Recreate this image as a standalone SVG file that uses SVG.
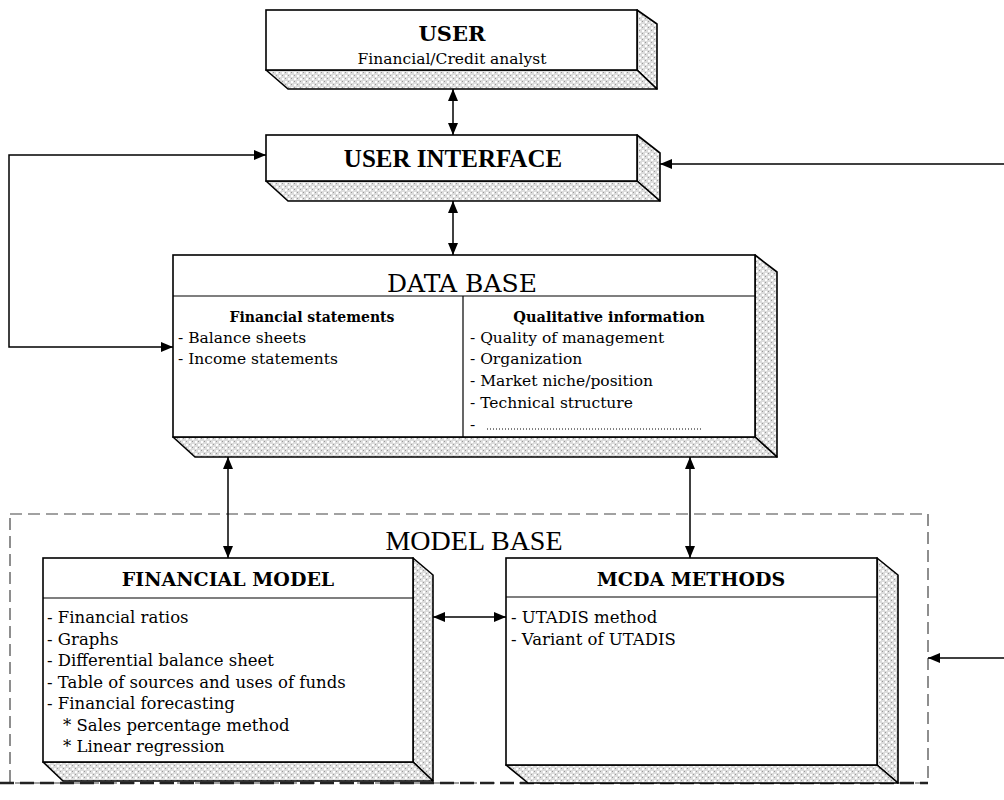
<svg xmlns="http://www.w3.org/2000/svg" width="1004" height="800" viewBox="0 0 1004 800">
<defs>
<pattern id="hatch" width="6" height="6" patternUnits="userSpaceOnUse">
<rect width="6" height="6" fill="#dcdcdc"/>
<rect x="0" y="0" width="2" height="2" fill="#ffffff"/>
<rect x="3" y="3" width="2" height="2" fill="#ffffff"/>
<rect x="3" y="0" width="1" height="1" fill="#9a9a9a"/>
<rect x="0" y="3" width="1" height="1" fill="#9a9a9a"/>
</pattern>
<marker id="ah" viewBox="0 0 12 10" refX="12" refY="5" markerWidth="12" markerHeight="10" markerUnits="userSpaceOnUse" orient="auto-start-reverse">
<path d="M0,0 L12,5 L0,10 z" fill="#000"/>
</marker>
<style>
.front{fill:#fff;stroke:#000;stroke-width:1.6}
.side{fill:url(#hatch);stroke:#000;stroke-width:1.6;stroke-linejoin:round}
.div{stroke:#000;stroke-width:1.2;fill:none}
.conn{stroke:#000;stroke-width:1.5;fill:none}
.t{font-family:"DejaVu Serif","Liberation Serif",serif;fill:#000}
.tt{font-family:"Liberation Serif","DejaVu Serif",serif;fill:#000}
.b{font-weight:bold}
.item{font-size:15.5px}
.fitem{font-size:16.5px}
.mid{text-anchor:middle}
</style>
</defs>
<rect width="1004" height="800" fill="#fff"/>

<g id="user">
<polygon class="side" points="637,10 657,24 657,89 637,70"/>
<polygon class="side" points="266,70 637,70 657,89 288,89"/>
<rect class="front" x="266" y="10" width="371" height="60"/>
<text class="t b mid" x="452" y="41" font-size="21">USER</text>
<text class="t mid" x="452" y="64" font-size="15.5">Financial/Credit analyst</text>
</g>

<g id="user-interface">
<polygon class="side" points="637,135 660,153 660,201 637,181"/>
<polygon class="side" points="266,181 637,181 660,201 288,201"/>
<rect class="front" x="266" y="135" width="371" height="46"/>
<text class="tt b mid" x="453" y="167" font-size="25">USER INTERFACE</text>
</g>

<g id="data-base">
<polygon class="side" points="755,255 777,272 777,457 755,437"/>
<polygon class="side" points="173,437 755,437 777,457 195,457"/>
<rect class="front" x="173" y="255" width="582" height="182"/>
<line class="div" x1="173" y1="296" x2="755" y2="296"/>
<line class="div" x1="463" y1="296" x2="463" y2="437"/>
<text class="t mid" x="462" y="292" font-size="25">DATA BASE</text>
<text class="t b mid" x="312" y="322" font-size="14">Financial statements</text>
<text class="t item" x="178" y="343">- Balance sheets</text>
<text class="t item" x="178" y="364">- Income statements</text>
<text class="t b mid" x="609" y="322" font-size="14.5">Qualitative information</text>
<text class="t item" x="470" y="343">- Quality of management</text>
<text class="t item" x="470" y="364">- Organization</text>
<text class="t item" x="470" y="386">- Market niche/position</text>
<text class="t item" x="470" y="408">- Technical structure</text>
<text class="t item" x="470" y="430">-</text>
<line x1="487" y1="429" x2="703" y2="429" stroke="#000" stroke-width="1" stroke-dasharray="1,2"/>
</g>

<g id="model-base">
<rect x="10" y="514" width="918" height="269" fill="none" stroke="#444" stroke-width="1.2" stroke-dasharray="12,6"/>
<line x1="0" y1="783" x2="928" y2="783" stroke="#222" stroke-width="2.5" stroke-dasharray="14,6"/>
<text class="tt mid" x="474" y="550" font-size="28">MODEL BASE</text>
</g>

<g id="financial-model">
<polygon class="side" points="413,558 433,575 433,781 413,762"/>
<polygon class="side" points="43,762 413,762 433,781 63,781"/>
<rect class="front" x="43" y="558" width="370" height="204"/>
<line class="div" x1="43" y1="598" x2="413" y2="598"/>
<text class="t b mid" x="228" y="586" font-size="19">FINANCIAL MODEL</text>
<text class="t fitem" x="47" y="623">- Financial ratios</text>
<text class="t fitem" x="47" y="645">- Graphs</text>
<text class="t fitem" x="47" y="666">- Differential balance sheet</text>
<text class="t fitem" x="47" y="688">- Table of sources and uses of funds</text>
<text class="t fitem" x="47" y="709">- Financial forecasting</text>
<text class="t fitem" x="63" y="731">* Sales percentage method</text>
<text class="t fitem" x="63" y="752">* Linear regression</text>
</g>

<g id="mcda-methods">
<polygon class="side" points="877,558 898,575 898,783 877,765"/>
<polygon class="side" points="506,765 877,765 898,783 528,783"/>
<rect class="front" x="506" y="558" width="371" height="207"/>
<line class="div" x1="506" y1="597" x2="877" y2="597"/>
<text class="t b mid" x="691" y="586" font-size="19">MCDA METHODS</text>
<text class="t fitem" x="511" y="623">- UTADIS method</text>
<text class="t fitem" x="511" y="645">- Variant of UTADIS</text>
</g>

<g id="connectors">
<line class="conn" x1="453" y1="89" x2="453" y2="135" marker-start="url(#ah)" marker-end="url(#ah)"/>
<line class="conn" x1="453" y1="201" x2="453" y2="255" marker-start="url(#ah)" marker-end="url(#ah)"/>
<polyline class="conn" points="266,155 9,155 9,347 173,347" marker-start="url(#ah)" marker-end="url(#ah)"/>
<line class="conn" x1="1004" y1="164" x2="660" y2="164" marker-end="url(#ah)"/>
<line class="conn" x1="228" y1="457" x2="228" y2="558" marker-start="url(#ah)" marker-end="url(#ah)"/>
<line class="conn" x1="690" y1="457" x2="690" y2="558" marker-start="url(#ah)" marker-end="url(#ah)"/>
<line class="conn" x1="433" y1="617" x2="506" y2="617" marker-start="url(#ah)" marker-end="url(#ah)"/>
<line class="conn" x1="1004" y1="658" x2="928" y2="658" marker-end="url(#ah)"/>
</g>
</svg>
